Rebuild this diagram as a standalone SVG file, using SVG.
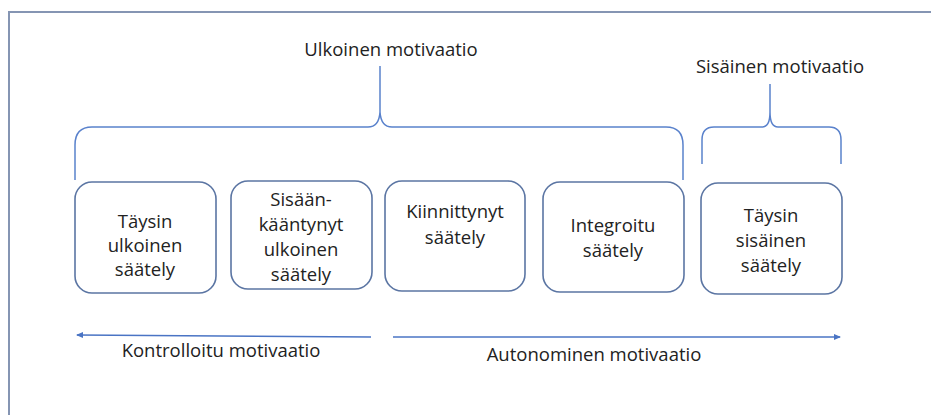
<svg xmlns="http://www.w3.org/2000/svg" width="931" height="415" viewBox="0 0 931 415">
<style>
.frame{fill:none;stroke:#8595b3;stroke-width:2}
.box{fill:#fff;stroke:#5b75a3;stroke-width:1.6}
.brace{fill:none;stroke:#5a82cc;stroke-width:1.5}
.arrow{fill:none;stroke:#4a74c4;stroke-width:1.5}
.t{font-family:"Open Sans","Liberation Sans",sans-serif;font-size:18.5px;fill:#222;text-anchor:middle}
</style>
<defs>
<marker id="ah" markerWidth="8" markerHeight="8" refX="6" refY="4" orient="auto" markerUnits="userSpaceOnUse">
<path d="M0,1 L7,4 L0,7 Z" fill="#4a74c4"/>
</marker>
</defs>
<rect width="931" height="415" fill="#fff"/>
<path class="frame" d="M9,415 L9,12 L931,12"/>

<g id="labels">
<text class="t" x="391" y="56">Ulkoinen motivaatio</text>
<text class="t" x="780" y="73">Sisäinen motivaatio</text>
<text class="t" x="221" y="357">Kontrolloitu motivaatio</text>
<text class="t" x="594" y="361">Autonominen motivaatio</text>
</g>

<g id="connectors">
<path class="brace" d="M75,180 L75,145 Q75,127 92,127 L368,127 Q379,127 380,112 L380,66 M380,112 Q381,127 392,127 L666,127 Q683,127 683,145 L683,180"/>
<path class="brace" d="M702,164 L702,140 Q702,127 714,127 L762,127 Q770,127 770,112 L770,84 M770,112 Q770,127 778,127 L829,127 Q841,127 841,140 L841,164"/>
<line class="arrow" x1="371" y1="337" x2="77" y2="335" marker-end="url(#ah)"/>
<line class="arrow" x1="393" y1="337" x2="840" y2="337" marker-end="url(#ah)"/>
</g>

<g id="n1">
<rect class="box" x="75" y="182" width="141" height="111" rx="17"/>
<text class="t"><tspan x="145" y="228">Täysin</tspan><tspan x="145" y="252">ulkoinen</tspan><tspan x="145" y="276">säätely</tspan></text>
</g>
<g id="n2">
<rect class="box" x="231" y="181" width="141" height="108" rx="17"/>
<text class="t"><tspan x="301" y="206">Sisään-</tspan><tspan x="301" y="231">kääntynyt</tspan><tspan x="301" y="256">ulkoinen</tspan><tspan x="301" y="281">säätely</tspan></text>
</g>
<g id="n3">
<rect class="box" x="385" y="181" width="140" height="110" rx="17"/>
<text class="t"><tspan x="455" y="218">Kiinnittynyt</tspan><tspan x="455" y="244">säätely</tspan></text>
</g>
<g id="n4">
<rect class="box" x="543" y="182" width="141" height="110" rx="17"/>
<text class="t"><tspan x="613" y="232">Integroitu</tspan><tspan x="613" y="257">säätely</tspan></text>
</g>
<g id="n5">
<rect class="box" x="701" y="183" width="141" height="111" rx="17"/>
<text class="t"><tspan x="771" y="222">Täysin</tspan><tspan x="771" y="247">sisäinen</tspan><tspan x="771" y="272">säätely</tspan></text>
</g>
</svg>
